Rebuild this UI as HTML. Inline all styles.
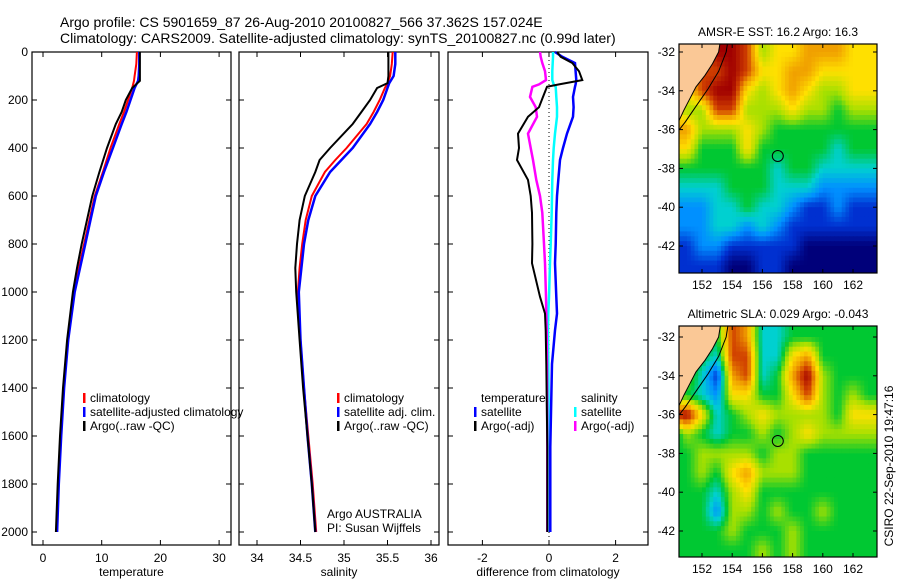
<!DOCTYPE html>
<html><head><meta charset="utf-8"><style>
body{margin:0;background:#fff;}
svg{display:block;font-family:"Liberation Sans",sans-serif;}
text{fill:#000;}
</style></head><body>
<svg id="fig" width="900" height="580" viewBox="0 0 900 580">
<defs>
<clipPath id="clipTop"><rect x="679" y="44" width="198" height="229"/></clipPath>
<clipPath id="clipBot"><rect x="679" y="326" width="198" height="231"/></clipPath>
</defs>
<text x="60" y="27" font-size="14">Argo profile: CS 5901659_87 26-Aug-2010 20100827_566 37.362S 157.024E</text>
<text x="60" y="43" font-size="14">Climatology: CARS2009. Satellite-adjusted climatology: synTS_20100827.nc (0.99d later)</text>
<g id="g"></g>
</svg>
<script>
// ---- depth axis data ----
const depthTicks=[0,200,400,600,800,1000,1200,1400,1600,1800,2000];
// temperature panel
const tDepth=[0,50,100,120,150,200,250,300,400,500,600,700,800,900,1000,1200,1400,1600,1800,2000];
const tClim=[16.0,15.9,15.6,15.5,15.2,14.5,13.8,13.0,11.5,10.2,8.8,7.9,7.0,6.1,5.3,4.3,3.5,3.0,2.6,2.3];
const tSat=[16.4,16.4,16.3,16.2,15.6,14.9,14.2,13.4,11.9,10.4,9.0,8.1,7.2,6.3,5.4,4.3,3.6,3.1,2.7,2.4];
const tArgo=[16.5,16.5,16.5,16.5,15.2,14.1,13.4,12.4,10.9,9.6,8.4,7.5,6.6,5.8,5.1,4.1,3.4,2.9,2.5,2.2];
const tTicks=[0,10,20,30];
// salinity panel
const sDepth=[0,50,100,130,150,200,250,300,400,450,500,600,700,800,900,1000,1200,1400,1600,1800,2000];
const sClim=[35.56,35.55,35.53,35.5,35.47,35.41,35.34,35.26,35.03,34.9,34.78,34.63,34.56,34.52,34.49,34.47,34.5,34.54,34.59,34.64,34.68];
const sSat=[35.59,35.59,35.57,35.52,35.5,35.45,35.38,35.30,35.1,34.97,34.84,34.67,34.59,34.54,34.51,34.48,34.5,34.54,34.58,34.63,34.67];
const sArgo=[35.51,35.51,35.51,35.5,35.38,35.30,35.2,35.1,34.84,34.72,34.67,34.55,34.49,34.46,34.44,34.45,34.49,34.53,34.58,34.63,34.67];
const sTicks=[34,34.5,35,35.5,36];
// difference panel
const dDepth=[0,20,46,80,117,135,145,187,230,270,340,400,450,533,600,670,800,880,1020,1090,1160,1300,1645,2000];
const dTempArgo=[0.24,0.35,0.7,0.9,1.0,0.3,-0.06,-0.18,-0.3,-0.63,-0.93,-0.9,-0.96,-0.63,-0.55,-0.51,-0.5,-0.51,-0.27,-0.12,-0.1,-0.08,-0.05,-0.05];
const dTempSat=[0.18,0.4,0.78,0.8,0.82,0.8,0.78,0.72,0.74,0.72,0.54,0.42,0.33,0.28,0.24,0.22,0.2,0.18,0.22,0.24,0.18,0.09,0.04,0.04];
const dSalArgo=[-0.27,-0.25,-0.2,-0.12,-0.09,-0.3,-0.5,-0.57,-0.4,-0.36,-0.63,-0.55,-0.48,-0.38,-0.27,-0.2,-0.15,-0.12,-0.09,-0.08,-0.07,-0.06,-0.05,-0.05];
const dSalSat=[0.12,0.12,0.11,0.1,0.1,0.14,0.2,0.22,0.24,0.24,0.18,0.14,0.12,0.1,0.09,0.08,0.05,0.03,0.0,-0.02,-0.03,-0.02,0.0,0.0];
const dTicks=[-2,0,2];
// map data (rows lat -32..-43, cols lon 150..163)
const lonTicks=[152,154,156,158,160,162];
const latTicks=[-32,-34,-36,-38,-40,-42];
const sstGrid=[
"66799856677766","66889866776666","66899656765566","65588555655455",
"77555654444444","66444644444344","44444443443333","33334443332222",
"22233433211211","22233232111111","11221111100000","11110011000000"];
const slaGrid=[
"55548733444444","55438833674444","55317834795444","44326644685454",
"89634565555466","35434454565555","44555545544444","44546755544444",
"44435644444444","44425545445444","44445444544444","44444454544444"];
const palette=[[0,0,122],[0,48,208],[0,144,255],[0,208,208],[0,200,50],[168,224,0],[255,224,0],[240,160,0],[208,64,0],[160,0,0]];

const NS="http://www.w3.org/2000/svg";
const G=document.getElementById('g');
function mk(tag,attrs,parent){const e=document.createElementNS(NS,tag);for(const k in attrs)e.setAttribute(k,attrs[k]);(parent||G).appendChild(e);return e;}
function txt(x,y,s,size,anchor,parent){const e=mk('text',{x:x,y:y,'font-size':size||12,'text-anchor':anchor||'start'},parent);e.textContent=s;return e;}

const yDepth=d=>52+d*0.24;
function panel(name,x0,x1,xs,ticks,fmt,xlabel,showY){
  const g=mk('g',{});
  
  
  const r=mk('rect',{x:x0,y:52,width:x1-x0,height:493,fill:'none',stroke:'#000','stroke-width':1.2},g);
  
  
  ticks.forEach(t=>{const x=xs(t);
    mk('line',{x1:x,x2:x,y1:545,y2:540,stroke:'#000'},g);
    mk('line',{x1:x,x2:x,y1:52,y2:57,stroke:'#000'},g);
    const l=txt(x,562,fmt(t),12,'middle',g);
    
    
  });
  depthTicks.forEach(d=>{const y=yDepth(d);
    mk('line',{x1:x0,x2:x0+5,y1:y,y2:y,stroke:'#000'},g);
    mk('line',{x1:x1,x2:x1-5,y1:y,y2:y,stroke:'#000'},g);
    if(showY){const l=txt(28,y+4,String(d),12,'end',g);
      
      }
  });
  const t=txt((x0+x1)/2,576,xlabel,12,'middle',g);
  
  
  return g;
}
function series(g,depths,vals,xs,color,w,name){
  const pts=depths.map((d,i)=>xs(vals[i]).toFixed(1)+','+yDepth(d).toFixed(1)).join(' ');
  const p=mk('polyline',{points:pts,fill:'none',stroke:color,'stroke-width':w,'stroke-linejoin':'miter'},g);
  
  
}
function legend(g,x,y,items){
  items.forEach((it,i)=>{const yy=y+i*14;
    if(it.c)mk('rect',{x:x,y:yy-9,width:2.5,height:10,fill:it.c},g);
    const l=txt(x+7,yy,it.t,12,'start',g);
    
    
  });
}
// Panel 1
const xT=v=>43+v*5.87;
const p1=panel('temperature-panel',32,231,xT,tTicks,String,'temperature',true);
series(p1,tDepth,tClim,xT,'#f00',2,'temperature-climatology-line');
series(p1,tDepth,tSat,xT,'#00f',2.5,'temperature-satellite-line');
series(p1,tDepth,tArgo,xT,'#000',2,'temperature-argo-line');
legend(p1,83,402,[{c:'#f00',t:'climatology'},{c:'#00f',t:'satellite-adjusted climatology'},{c:'#000',t:'Argo(..raw -QC)'}]);
// Panel 2
const xS=v=>257+(v-34)*87;
const p2=panel('salinity-panel',239,439,xS,sTicks,String,'salinity',false);
series(p2,sDepth,sClim,xS,'#f00',2,'salinity-climatology-line');
series(p2,sDepth,sSat,xS,'#00f',2.5,'salinity-satellite-line');
series(p2,sDepth,sArgo,xS,'#000',2,'salinity-argo-line');
legend(p2,337,402,[{c:'#f00',t:'climatology'},{c:'#00f',t:'satellite adj. clim.'},{c:'#000',t:'Argo(..raw -QC)'}]);
const a1=txt(327,518,'Argo AUSTRALIA',12,'start',p2);

const a2=txt(327,532,'PI: Susan Wijffels',12,'start',p2);

// Panel 3
const xD=v=>549+v*33.3;
const p3=panel('difference-panel',448,648,xD,dTicks,String,'difference from climatology',false);
const z=mk('line',{x1:xD(0),x2:xD(0),y1:52,y2:545,stroke:'#000','stroke-dasharray':'1,3'},p3);

series(p3,dDepth,dSalSat,xD,'#0ff',2.5,'salinity-satellite-diff-line');
series(p3,dDepth,dSalArgo,xD,'#f0f',2.5,'salinity-argo-diff-line');
series(p3,dDepth,dTempSat,xD,'#00f',2.5,'temperature-satellite-diff-line');
series(p3,dDepth,dTempArgo,xD,'#000',2,'temperature-argo-diff-line');
legend(p3,474,402,[{c:null,t:'temperature'},{c:'#00f',t:'satellite'},{c:'#000',t:'Argo(-adj)'}]);
legend(p3,574,402,[{c:null,t:'salinity'},{c:'#0ff',t:'satellite'},{c:'#f0f',t:'Argo(-adj)'}]);

function colorOf(v){
  v=Math.max(0,Math.min(9,v));const i=Math.min(8,Math.floor(v)),f=v-i;
  const a=palette[i],b=palette[i+1];
  return 'rgb('+a.map((c,k)=>Math.round(c+(b[k]-c)*f)).join(',')+')';
}
// Maps
function map(name,top,bottom,lat32y,lat42y,grid,clip,title){
  const g=mk('g',{});
  
  
  const L=679,R=877;
  const xLon=lon=>702+(lon-152)*15.1;
  const yLat=lat=>lat32y+(-32-lat)*(lat42y-lat32y)/10;
  const cg=mk('g',{'clip-path':'url(#'+clip+')'},g);
  const val=(r,c)=>{r=Math.max(0,Math.min(grid.length-1,r));c=Math.max(0,Math.min(grid[0].length-1,c));return +grid[r][c];};
  const step=0.25;
  for(let lat=-31.25;lat>-43.75;lat-=step){
    for(let lon=150.25;lon<164;lon+=step){
      const fc=lon+step/2-150, fr=-32-(lat-step/2);
      const c0=Math.floor(fc), r0=Math.floor(fr), dx=fc-c0, dy=fr-r0;
      const v=val(r0,c0)*(1-dx)*(1-dy)+val(r0,c0+1)*dx*(1-dy)+val(r0+1,c0)*(1-dx)*dy+val(r0+1,c0+1)*dx*dy;
      const x0=xLon(lon),y0=yLat(lat);
      const cell=mk('rect',{x:x0.toFixed(1),y:y0.toFixed(1),width:(15.1*step+0.6).toFixed(1),height:((lat42y-lat32y)/10*step+0.6).toFixed(1),fill:colorOf(v)},cg);
      
      
    }
  }
  const coast=[[153.3,-31.0],[153.1,-32.0],[152.7,-32.6],[152.2,-33.2],[151.6,-33.8],[151.2,-34.4],[150.8,-35.0],[150.5,-35.5],[150.0,-35.5],[150.0,-31.0]];
  const land=mk('polygon',{points:coast.map(p=>xLon(p[0])+','+yLat(p[1])).join(' '),fill:'#fac896',stroke:'#000','stroke-width':1},cg);
  
  const iso=[[153.8,-31.0],[153.6,-32.0],[153.1,-33.0],[152.4,-33.9],[151.6,-34.8],[150.9,-35.6],[150.5,-36.0]];
  const il=mk('polyline',{points:iso.map(p=>xLon(p[0])+','+yLat(p[1])).join(' '),fill:'none',stroke:'#000','stroke-width':1},cg);
  
  const mc=mk('circle',{cx:xLon(157.02),cy:yLat(-37.36),r:5.5,fill:'none',stroke:'#000','stroke-width':1},g);
  
  const fr=mk('rect',{x:L,y:top,width:R-L,height:bottom-top,fill:'none',stroke:'#000','stroke-width':1.2},g);
  
  lonTicks.forEach(lon=>{const x=xLon(lon);
    mk('line',{x1:x,x2:x,y1:bottom,y2:bottom-4,stroke:'#000'},g);
    mk('line',{x1:x,x2:x,y1:top,y2:top+4,stroke:'#000'},g);
    const l=txt(x,bottom+16,String(lon),12,'middle',g);
    });
  latTicks.forEach(lat=>{const y=yLat(lat);
    mk('line',{x1:L,x2:L+4,y1:y,y2:y,stroke:'#000'},g);
    mk('line',{x1:R,x2:R-4,y1:y,y2:y,stroke:'#000'},g);
    const l=txt(675,y+4,String(lat),12,'end',g);
    });
  const t=txt(778,top-8,title,12,'middle',g);
  
}
map('sst-map',44,273,52,246,sstGrid,'clipTop','AMSR-E SST: 16.2 Argo: 16.3');
map('sla-map',326,557,337,531,slaGrid,'clipBot','Altimetric SLA: 0.029 Argo: -0.043');
const cs=mk('text',{x:0,y:0,'font-size':12,'text-anchor':'middle',transform:'translate(893,466) rotate(-90)'});
cs.textContent='CSIRO 22-Sep-2010 19:47:16';


</script>
</body></html>
